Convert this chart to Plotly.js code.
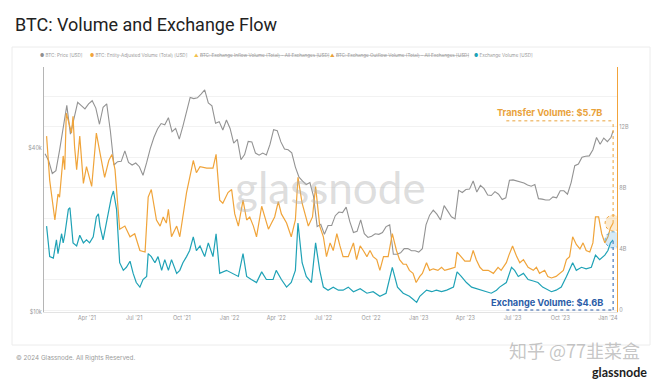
<!DOCTYPE html>
<html>
<head>
<meta charset="utf-8">
<script src="https://cdn.plot.ly/plotly-3.0.1.min.js"></script>
<style>
html,body{margin:0;padding:0;background:#fff;}
#chart{width:660px;height:381px;}
</style>
</head>
<body>
<div id="chart"></div>
<script>
// ---- Data ----
// BTC price, weekly, in thousands of USD
const priceDates = [
'2021-01-10','2021-01-17','2021-01-24','2021-01-31','2021-02-07','2021-02-14','2021-02-21','2021-02-28','2021-03-07','2021-03-14','2021-03-21','2021-03-28',
'2021-04-04','2021-04-11','2021-04-18','2021-04-25','2021-05-02','2021-05-09','2021-05-16','2021-05-23','2021-05-30','2021-06-06','2021-06-13','2021-06-20','2021-06-27',
'2021-07-04','2021-07-11','2021-07-18','2021-07-25','2021-08-01','2021-08-08','2021-08-15','2021-08-22','2021-08-29','2021-09-05','2021-09-12','2021-09-19','2021-09-26',
'2021-10-03','2021-10-10','2021-10-17','2021-10-24','2021-10-31','2021-11-07','2021-11-14','2021-11-21','2021-11-28','2021-12-05','2021-12-12','2021-12-19','2021-12-26',
'2022-01-02','2022-01-09','2022-01-16','2022-01-23','2022-01-30','2022-02-06','2022-02-13','2022-02-20','2022-02-27','2022-03-06','2022-03-13','2022-03-20','2022-03-27',
'2022-04-03','2022-04-10','2022-04-17','2022-04-24','2022-05-01','2022-05-08','2022-05-15','2022-05-22','2022-05-29','2022-06-05','2022-06-12','2022-06-19','2022-06-26',
'2022-07-03','2022-07-10','2022-07-17','2022-07-24','2022-07-31','2022-08-07','2022-08-14','2022-08-21','2022-08-28','2022-09-04','2022-09-11','2022-09-18','2022-09-25',
'2022-10-02','2022-10-09','2022-10-16','2022-10-23','2022-10-30','2022-11-06','2022-11-13','2022-11-20','2022-11-27','2022-12-04','2022-12-11','2022-12-18','2022-12-25',
'2023-01-01','2023-01-08','2023-01-15','2023-01-22','2023-01-29','2023-02-05','2023-02-12','2023-02-19','2023-02-26','2023-03-05','2023-03-12','2023-03-19','2023-03-26',
'2023-04-02','2023-04-09','2023-04-16','2023-04-23','2023-04-30','2023-05-07','2023-05-14','2023-05-21','2023-05-28','2023-06-04','2023-06-11','2023-06-18','2023-06-25',
'2023-07-02','2023-07-09','2023-07-16','2023-07-23','2023-07-30','2023-08-06','2023-08-13','2023-08-20','2023-08-27','2023-09-03','2023-09-10','2023-09-17','2023-09-24',
'2023-10-01','2023-10-08','2023-10-15','2023-10-22','2023-10-29','2023-11-05','2023-11-12','2023-11-19','2023-11-26','2023-12-03','2023-12-10','2023-12-17','2023-12-24','2023-12-31',
'2024-01-07','2024-01-11'
];
const priceK = [
38.2,36.0,32.3,33.1,39.3,48.6,57.5,45.1,51.2,59.0,57.4,55.8,
58.2,59.8,56.2,49.0,56.6,58.2,46.4,34.7,35.7,35.8,39.1,35.5,34.7,
35.3,34.2,31.8,35.4,39.9,43.8,47.1,49.3,48.8,51.8,46.0,47.3,43.2,
48.2,54.9,61.5,60.9,61.3,63.3,65.5,58.7,57.3,49.4,50.1,46.7,50.8,
47.3,41.8,43.1,36.3,37.9,42.4,42.2,38.4,37.7,38.4,37.8,41.3,46.8,
46.4,42.2,39.7,39.5,38.5,34.1,31.3,30.3,29.4,29.9,26.6,20.6,21.0,
19.3,20.8,20.8,22.6,23.3,23.2,24.3,21.5,19.6,19.8,21.8,19.4,18.8,
19.0,19.4,19.3,19.6,20.6,20.9,16.3,16.3,16.5,17.1,17.1,16.8,16.8,
16.6,17.1,20.9,22.7,23.7,22.9,21.8,24.6,23.5,22.4,22.0,28.0,27.5,
28.2,28.3,30.3,27.6,29.2,28.4,26.9,26.8,27.7,27.1,25.9,26.3,30.5,
30.6,30.3,30.2,29.8,29.3,29.0,29.4,26.1,26.0,25.8,25.8,26.5,26.3,
27.9,27.9,27.1,29.9,34.5,35.0,37.1,37.4,37.5,39.5,43.8,41.4,43.6,42.3,
43.9,46.3
];

// BTC entity-adjusted transfer volume (billions USD)
const transferDates = [
'2021-01-13','2021-01-19','2021-01-29','2021-02-04','2021-02-07','2021-02-14','2021-02-17','2021-02-20','2021-02-27','2021-03-02','2021-03-05','2021-03-08',
'2021-03-12','2021-03-18','2021-03-25','2021-03-31','2021-04-10','2021-04-19','2021-04-26','2021-05-05','2021-05-13','2021-05-19','2021-05-25','2021-06-03',
'2021-06-13','2021-06-23','2021-07-02','2021-07-12','2021-07-22','2021-07-28','2021-08-03','2021-08-13','2021-08-20','2021-08-26','2021-09-01','2021-09-05',
'2021-09-11','2021-09-21','2021-09-27','2021-10-03','2021-10-10','2021-10-23','2021-10-29','2021-11-05','2021-11-18','2021-11-30','2021-12-06','2021-12-13',
'2021-12-19','2021-12-29','2022-01-05','2022-01-11','2022-01-18','2022-01-27','2022-02-03','2022-02-09','2022-02-16','2022-02-22','2022-03-04','2022-03-10',
'2022-03-17','2022-03-23','2022-03-29','2022-04-05','2022-04-11','2022-04-21','2022-04-30','2022-05-08','2022-05-13','2022-05-21','2022-06-02','2022-06-10',
'2022-06-16','2022-06-24','2022-07-01','2022-07-07','2022-07-14','2022-07-20','2022-07-27','2022-08-02','2022-08-08','2022-08-18','2022-08-28','2022-09-03',
'2022-09-10','2022-09-16','2022-09-23','2022-09-29','2022-10-05','2022-10-12','2022-10-18','2022-10-25','2022-11-03','2022-11-11','2022-11-19','2022-11-25',
'2022-12-02','2022-12-08','2022-12-14','2022-12-21','2022-12-27','2023-01-03','2023-01-08','2023-01-16','2023-01-22','2023-01-29','2023-02-07','2023-02-14',
'2023-02-20','2023-03-02','2023-03-12','2023-03-16','2023-03-24','2023-03-31','2023-04-10','2023-04-16','2023-04-22','2023-04-29','2023-05-05','2023-05-15',
'2023-05-25','2023-06-03','2023-06-09','2023-06-19','2023-06-24','2023-07-01','2023-07-09','2023-07-15','2023-07-22','2023-07-31','2023-08-10','2023-08-16',
'2023-08-22','2023-09-01','2023-09-07','2023-09-14','2023-09-23','2023-09-30','2023-10-07','2023-10-13','2023-10-19','2023-10-25','2023-11-01','2023-11-08',
'2023-11-14','2023-11-20','2023-11-27','2023-12-03','2023-12-08','2023-12-14','2023-12-20','2023-12-26','2024-01-01','2024-01-06','2024-01-11'
];
const transferB = [
11.4,8.5,5.9,7.6,7.4,10.1,9.2,12.9,12.0,11.6,12.7,10.7,
9.2,11.4,8.3,9.4,8.1,11.6,10.3,8.7,9.8,10.2,9.2,5.3,
5.5,4.8,5.0,3.9,3.8,7.4,7.9,5.9,5.5,6.1,5.7,6.6,
4.8,5.5,4.8,6.3,7.7,9.8,9.0,9.4,9.3,9.3,10.2,7.2,
7.0,7.7,7.9,6.3,5.5,7.2,5.9,6.1,5.5,4.8,6.8,6.1,
5.3,5.7,6.1,7.1,6.3,5.7,4.8,5.9,8.7,7.0,5.5,6.1,
8.1,5.5,4.8,3.5,4.4,3.9,5.0,4.2,3.5,3.5,4.4,3.3,
4.2,3.9,3.5,3.9,3.5,3.3,2.6,3.5,3.5,5.0,3.9,3.3,
3.0,3.0,2.6,2.4,1.8,2.2,2.4,3.1,2.6,2.7,2.6,2.8,
2.6,2.7,2.8,3.8,3.5,3.2,3.2,3.9,3.3,2.8,2.6,2.6,
2.4,2.8,2.6,3.1,3.6,4.2,3.5,3.1,3.3,2.8,2.6,2.8,
2.4,2.6,2.2,2.1,2.2,2.4,2.6,3.3,3.5,4.8,4.3,4.0,
4.4,3.9,3.8,4.4,6.1,6.1,5.0,4.4,4.8,5.4,5.7
];

// Exchange volume (billions USD)
const exchangeDates = [
'2021-01-13','2021-01-19','2021-01-26','2021-02-01','2021-02-04','2021-02-11','2021-02-14','2021-02-17','2021-02-24','2021-02-27','2021-03-05','2021-03-12',
'2021-03-18','2021-03-25','2021-03-31','2021-04-06','2021-04-13','2021-04-19','2021-04-23','2021-04-26','2021-05-02','2021-05-09','2021-05-18','2021-05-22',
'2021-05-28','2021-06-03','2021-06-10','2021-06-16','2021-06-23','2021-06-29','2021-07-05','2021-07-12','2021-07-18','2021-07-25','2021-07-28','2021-08-03',
'2021-08-10','2021-08-16','2021-08-23','2021-08-29','2021-09-05','2021-09-11','2021-09-21','2021-09-27','2021-10-03','2021-10-10','2021-10-16','2021-10-23',
'2021-10-29','2021-11-05','2021-11-14','2021-11-21','2021-11-30','2021-12-06','2021-12-13','2021-12-26','2022-01-07','2022-01-18','2022-01-27','2022-02-03',
'2022-02-12','2022-02-22','2022-03-04','2022-03-13','2022-03-26','2022-04-01','2022-04-11','2022-04-21','2022-04-30','2022-05-08','2022-05-13','2022-05-21',
'2022-05-29','2022-06-08','2022-06-16','2022-06-24','2022-07-01','2022-07-10','2022-07-20','2022-07-30','2022-08-08','2022-08-18','2022-08-28','2022-09-10',
'2022-09-23','2022-10-05','2022-10-18','2022-10-30','2022-11-11','2022-11-21','2022-12-02','2022-12-14','2022-12-21','2022-12-28','2023-01-03','2023-01-09',
'2023-01-16','2023-01-26','2023-02-04','2023-02-14','2023-02-24','2023-03-09','2023-03-16','2023-03-24','2023-04-03','2023-04-13','2023-04-22','2023-05-02',
'2023-05-11','2023-05-21','2023-05-31','2023-06-06','2023-06-19','2023-06-29','2023-07-05','2023-07-12','2023-07-22','2023-07-31','2023-08-10','2023-08-19',
'2023-08-28','2023-09-07','2023-09-14','2023-09-23','2023-10-03','2023-10-13','2023-10-19','2023-10-25','2023-11-01','2023-11-11','2023-11-20','2023-11-30',
'2023-12-08','2023-12-16','2023-12-26','2024-01-01','2024-01-06','2024-01-11'
];
const exchangeB = [
5.5,3.5,3.4,4.6,3.7,5.0,4.4,4.9,6.6,6.7,4.4,4.2,
4.9,4.4,4.6,4.4,4.8,6.1,6.3,5.5,4.6,5.9,7.4,7.8,
6.6,3.1,2.6,2.8,3.2,2.4,1.8,1.5,2.0,2.2,3.7,3.5,
3.1,3.5,2.6,3.3,2.6,3.3,2.4,2.6,3.1,3.5,3.9,4.8,
3.9,4.2,3.5,4.4,3.5,5.0,2.4,2.6,2.4,2.2,3.7,2.2,
2.0,1.8,2.5,2.0,2.0,2.6,2.0,1.5,1.8,2.6,5.7,3.1,
2.2,1.8,4.4,2.6,1.5,1.3,1.5,1.3,1.3,1.5,1.2,1.4,
1.1,1.2,0.9,1.1,2.8,1.5,1.1,0.9,0.7,0.5,0.9,1.1,
1.3,1.2,1.3,1.2,1.3,1.5,2.5,2.2,1.8,1.5,1.4,1.3,
1.2,1.1,1.3,1.5,1.8,2.8,2.6,2.2,2.4,2.0,1.9,1.8,
1.5,1.3,1.2,1.3,1.5,2.2,2.6,3.1,2.6,2.8,2.7,2.8,
3.6,3.3,3.6,3.9,4.4,4.6
];

const xTickVals = ['2021-04-01','2021-07-01','2021-10-01','2022-01-01','2022-04-01','2022-07-01','2022-10-01','2023-01-01','2023-04-01','2023-07-01','2023-10-01','2024-01-01'];
const xTickText = ["Apr '21","Jul '21","Oct '21","Jan '22","Apr '22","Jul '22","Oct '22","Jan '23","Apr '23","Jul '23","Oct '23","Jan '24"];
const priceTickVals = [10000, 40000];
const priceTickText = ['$10k', '$40k'];
const volTickVals = [0, 2, 4, 6, 8, 10, 12, 14];
const volTickText = ['0', '', '4B', '', '8B', '', '12B', ''];

const legendItems = [
  {sym:'●', symColor:'#8E8E8E', text:'BTC: Price [USD]', strike:false},
  {sym:'●', symColor:'#F0A43A', text:'BTC: Entity-Adjusted Volume (Total) [USD]', strike:false},
  {sym:'▲', symColor:'#F2C14E', text:'BTC: Exchange Inflow Volume (Total) - All Exchanges [USD]', strike:true},
  {sym:'▲', symColor:'#E9A23B', text:'BTC: Exchange Outflow Volume (Total) - All Exchanges [USD]', strike:true},
  {sym:'●', symColor:'#1FA2B6', text:'Exchange Volume [USD]', strike:false}
];
const transferLabel = 'Transfer Volume: $5.7B';
const exchangeLabel = 'Exchange Volume: $4.6B';

// ---- Layout helpers (pixel -> paper) ----
const L = 44, R = 617, T = 67, B = 312;
const px = v => (v - L) / (R - L);
const py = v => (B - v) / (B - T);
const FONT = 'Inter, Roboto, "Noto Sans", sans-serif';

const traces = [
  {x: priceDates, y: priceK.map(v => v * 1000), type: 'scatter', mode: 'lines',
   line: {color: '#939393', width: 1.1}, name: 'BTC: Price [USD]', yaxis: 'y', hoverinfo: 'skip'},
  {x: transferDates, y: transferB, type: 'scatter', mode: 'lines',
   line: {color: '#F0A43A', width: 1.2}, name: 'Entity-Adjusted Volume', yaxis: 'y2', hoverinfo: 'skip'},
  {x: exchangeDates, y: exchangeB, type: 'scatter', mode: 'lines',
   line: {color: '#1FA2B6', width: 1.2}, name: 'Exchange Volume', yaxis: 'y2', hoverinfo: 'skip'}
];

const lastDate = transferDates[transferDates.length - 1];
const lastT = transferB[transferB.length - 1];
const lastE = exchangeB[exchangeB.length - 1];

const legendX = [38, 88, 192, 328, 472];
const annotations = legendItems.map((it, i) => ({
  xref: 'paper', yref: 'paper', x: px(legendX[i]), y: py(56), xanchor: 'left', yanchor: 'middle',
  showarrow: false, font: {size: 4.6, color: '#9a9a9a', family: FONT},
  text: '<span style="color:' + it.symColor + '">' + it.sym + '</span> ' + (it.strike ? '<s>' + it.text + '</s>' : it.text)
}));

annotations.push(
  {xref:'paper', yref:'paper', x: px(330), y: py(187), xanchor:'center', yanchor:'middle', showarrow:false,
   text:'glassnode', font:{size:44, color:'rgba(180,180,180,0.45)', family:'Lato, "Open Sans", sans-serif'}},
  {xref:'paper', yref:'paper', x: px(604), y: py(112), xanchor:'right', yanchor:'middle', showarrow:false,
   text:'<b>' + transferLabel + '</b>', font:{size:9.2, color:'#E9A23B', family:FONT}},
  {xref:'paper', yref:'paper', x: px(605), y: py(302), xanchor:'right', yanchor:'middle', showarrow:false,
   text:'<b>' + exchangeLabel + '</b>', font:{size:9.2, color:'#2B5DA8', family:FONT}},
  {xref:'paper', yref:'paper', x: px(14), y: py(358), xanchor:'left', yanchor:'middle', showarrow:false,
   text:'© 2024 Glassnode. All Rights Reserved.', font:{size:6.3, color:'#9a9a9a', family:FONT}},
  {xref:'paper', yref:'paper', x: px(649), y: py(372), xanchor:'right', yanchor:'middle', showarrow:false,
   text:'<b>glassnode</b>', font:{size:12.5, color:'#1d1d1d', family:'Lato, "Open Sans", sans-serif'}},
  {xref:'paper', yref:'paper', x: px(642), y: py(350), xanchor:'right', yanchor:'middle', showarrow:false,
   text:'知乎 @77韭菜盒', font:{size:18, color:'rgba(150,150,150,0.55)', family:'"Noto Sans CJK SC", sans-serif'}}
);

const shapes = [
  // card frame
  {type:'rect', xref:'paper', yref:'paper', x0: px(12), x1: px(650), y0: py(345), y1: py(47),
   line:{color:'#ececec', width:1}, fillcolor:'rgba(0,0,0,0)', layer:'below'},
  // transfer volume callout
  {type:'line', xref:'x', yref:'y2', x0:'2023-06-19', x1:lastDate, y0:12.4, y1:12.4,
   line:{color:'#E9A23B', width:1, dash:'dot'}},
  {type:'line', xref:'x', yref:'y2', x0:lastDate, x1:lastDate, y0:lastT, y1:12.4,
   line:{color:'#E9A23B', width:1, dash:'dot'}},
  // exchange volume callout
  {type:'line', xref:'x', yref:'y2', x0:'2023-06-19', x1:lastDate, y0:0, y1:0,
   line:{color:'#2B5DA8', width:1, dash:'dot'}},
  {type:'line', xref:'x', yref:'y2', x0:lastDate, x1:lastDate, y0:0, y1:lastE,
   line:{color:'#2B5DA8', width:1, dash:'dot'}},
  // end markers
  {type:'circle', xref:'x', yref:'y2', xsizemode:'pixel', ysizemode:'pixel', xanchor:lastDate, yanchor:lastT,
   x0:-8, x1:8, y0:-8, y1:8, line:{color:'#F0A43A', width:1, dash:'dot'}, fillcolor:'rgba(245,175,70,0.25)'},
  {type:'circle', xref:'x', yref:'y2', xsizemode:'pixel', ysizemode:'pixel', xanchor:lastDate, yanchor:lastE,
   x0:-8, x1:8, y0:-8, y1:8, line:{color:'#5AA7D8', width:1, dash:'dot'}, fillcolor:'rgba(90,170,220,0.25)'}
];

const layout = {
  width: 660, height: 381,
  margin: {l: L, r: 660 - R, t: T, b: 381 - B, pad: 0},
  paper_bgcolor: '#ffffff', plot_bgcolor: '#ffffff',
  showlegend: false,
  title: {text: 'BTC: Volume and Exchange Flow', x: 15 / 660, xref: 'container', xanchor: 'left',
          y: 1 - 25 / 381, yref: 'container', yanchor: 'middle',
          font: {size: 18, color: '#222222', family: 'Roboto, Inter, sans-serif'}},
  xaxis: {type: 'date', range: ['2021-01-08', '2024-01-18 12:00'], tickmode: 'array',
          tickvals: xTickVals, ticktext: xTickText, tickfont: {size: 5.5, color: '#999', family: FONT},
          showgrid: false, showline: true, linecolor: '#e3e3e3', linewidth: 1, ticks: '', zeroline: false},
  yaxis: {type: 'log', range: [4, 4.9007], tickmode: 'array', tickvals: priceTickVals, ticktext: priceTickText,
          tickfont: {size: 5.5, color: '#999', family: FONT}, showgrid: false, showline: true,
          linecolor: '#b5b5b5', linewidth: 1, ticks: '', zeroline: false},
  yaxis2: {overlaying: 'y', side: 'right', range: [-0.131, 15.93], tickmode: 'array',
           tickvals: volTickVals, ticktext: volTickText, tickfont: {size: 5.5, color: '#999', family: FONT},
           showgrid: true, gridcolor: '#f2f2f2', gridwidth: 1, showline: true, linecolor: '#F2A33A',
           linewidth: 1.2, ticks: '', zeroline: false},
  annotations: annotations,
  shapes: shapes
};

Plotly.newPlot('chart', traces, layout, {staticPlot: true, displayModeBar: false});
</script>
</body>
</html>
